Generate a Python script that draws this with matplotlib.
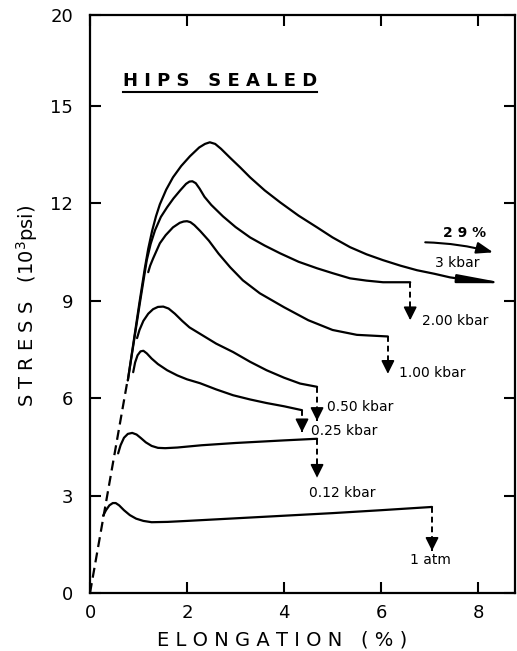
import matplotlib
matplotlib.use('Agg')
import matplotlib.pyplot as plt

# elastic (dashed) part, common to all pressures
elastic_x = [0.0, 0.78]
elastic_y = [0.0, 6.6]

# stress-strain curves (elongation %, stress 10^3 psi)
x_1atm = [0.27, 0.33, 0.40, 0.47, 0.53, 0.60, 0.70, 0.82, 0.95, 1.10, 1.27, 1.6, 2.0, 3.0, 4.0, 5.0, 6.0, 7.05]
y_1atm = [2.38, 2.55, 2.70, 2.77, 2.77, 2.70, 2.55, 2.40, 2.29, 2.22, 2.18, 2.19, 2.22, 2.30, 2.38, 2.46, 2.55, 2.65]

x_012 = [0.58, 0.63, 0.70, 0.78, 0.87, 0.96, 1.05, 1.15, 1.27, 1.40, 1.55, 1.8, 2.3, 3.0, 3.5, 4.0, 4.68]
y_012 = [4.30, 4.55, 4.78, 4.90, 4.93, 4.88, 4.77, 4.64, 4.53, 4.47, 4.46, 4.48, 4.55, 4.62, 4.66, 4.70, 4.75]

x_025 = [0.89, 0.93, 0.98, 1.04, 1.10, 1.17, 1.27, 1.40, 1.59, 1.80, 2.0, 2.27, 2.6, 2.95, 3.3, 3.64, 4.0, 4.37]
y_025 = [6.80, 7.10, 7.32, 7.44, 7.46, 7.38, 7.22, 7.05, 6.86, 6.70, 6.58, 6.46, 6.27, 6.09, 5.96, 5.85, 5.75, 5.63]

x_050 = [0.97, 1.02, 1.10, 1.20, 1.30, 1.40, 1.51, 1.62, 1.75, 1.90, 2.05, 2.27, 2.60, 2.95, 3.3, 3.64, 4.0, 4.33, 4.68]
y_050 = [7.85, 8.10, 8.38, 8.60, 8.74, 8.81, 8.82, 8.76, 8.60, 8.38, 8.18, 7.98, 7.68, 7.42, 7.12, 6.86, 6.63, 6.45, 6.35]

x_100 = [1.20, 1.24, 1.30, 1.44, 1.56, 1.71, 1.85, 1.93, 2.00, 2.07, 2.15, 2.27, 2.45, 2.65, 2.89, 3.15, 3.5, 4.0, 4.5, 5.0, 5.5, 6.14]
y_100 = [9.88, 10.08, 10.30, 10.77, 11.02, 11.26, 11.40, 11.44, 11.45, 11.42, 11.33, 11.15, 10.85, 10.45, 10.03, 9.63, 9.23, 8.80, 8.40, 8.10, 7.95, 7.90]

x_200 = [0.78, 0.90, 1.03, 1.17, 1.25, 1.34, 1.46, 1.59, 1.72, 1.86, 1.98, 2.05, 2.11, 2.18, 2.26, 2.36, 2.50, 2.74, 3.0, 3.3, 3.6, 3.92, 4.3, 4.68, 5.0, 5.36, 5.7, 6.04, 6.3, 6.6]
y_200 = [6.55, 7.70, 8.95, 10.25, 10.75, 11.17, 11.58, 11.88, 12.15, 12.40, 12.60, 12.67, 12.68, 12.62, 12.45, 12.20, 11.95, 11.60, 11.27, 10.95, 10.70, 10.46, 10.20, 10.00, 9.85, 9.69, 9.62, 9.57, 9.57, 9.57]

x_300 = [0.78, 0.90, 1.02, 1.13, 1.20, 1.28, 1.36, 1.44, 1.57, 1.71, 1.88, 2.06, 2.25, 2.37, 2.47, 2.58, 2.70, 2.89, 3.1, 3.3, 3.6, 3.92, 4.3, 4.68, 5.0, 5.36, 5.7, 6.04, 6.4, 6.74, 7.1, 7.42, 7.7]
y_300 = [6.55, 7.75, 8.95, 10.0, 10.6, 11.15, 11.6, 11.97, 12.42, 12.8, 13.15, 13.45, 13.72, 13.83, 13.88, 13.83, 13.68, 13.40, 13.10, 12.80, 12.40, 12.03, 11.62, 11.26, 10.95, 10.65, 10.43, 10.25, 10.08, 9.94, 9.83, 9.72, 9.66]

# fracture drops: (x, from y, to y) and labels
break_x = [7.05, 4.68, 4.37, 4.68, 6.14, 6.6]
break_top = [2.65, 4.75, 5.63, 6.35, 7.90, 9.57]
break_tip = [1.30, 3.55, 4.95, 5.30, 6.75, 8.40]

labels = ['1 atm', '0.12 kbar', '0.25 kbar', '0.50 kbar', '1.00 kbar', '2.00 kbar']
label_x = [7.01, 5.20, 4.56, 4.89, 6.37, 6.85]
label_y = [1.02, 3.08, 4.98, 5.72, 6.77, 8.37]
label_ha = ['center', 'center', 'left', 'left', 'left', 'left']

xticks = [0, 2, 4, 6, 8]
ytop = 17.8
yticks = [0, 3, 6, 9, 12, 15, ytop]
yticklabels = ['0', '3', '6', '9', '12', '15', '20']

plt.rcParams['font.family'] = ['DejaVu Sans']

fig = plt.figure(figsize=(5.17, 6.51), dpi=100)
ax = fig.add_axes([90 / 517, 58 / 651, 425 / 517, 578 / 651])

lw = 1.6
ax.plot(elastic_x, elastic_y, color='k', lw=lw, linestyle=(0, (4.5, 2.5)))
for xs, ys in [(x_1atm, y_1atm), (x_012, y_012), (x_025, y_025), (x_050, y_050),
               (x_100, y_100), (x_200, y_200), (x_300, y_300)]:
    ax.plot(xs, ys, color='k', lw=lw, solid_capstyle='round', solid_joinstyle='round')

for bx, top, tip in zip(break_x, break_top, break_tip):
    ax.plot([bx, bx], [top, tip], color='k', lw=1.4, linestyle=(0, (3, 2)))
    ax.annotate('', xy=(bx, tip), xytext=(0, 9), textcoords='offset points',
                arrowprops=dict(arrowstyle='-|>,head_length=0.8,head_width=0.4',
                                color='k', lw=1.2, shrinkA=0, shrinkB=0))

for txt, lx, ly, ha in zip(labels, label_x, label_y, label_ha):
    ax.text(lx, ly, txt, fontsize=10, ha=ha, va='center')

# 3 kbar curve runs off to 29 %
ax.annotate('', xy=(8.56, 9.54), xytext=(x_300[-1], y_300[-1]),
            arrowprops=dict(arrowstyle='-|>,head_length=2.7,head_width=0.25',
                            color='k', lw=lw, shrinkA=0, shrinkB=0))
ax.annotate('', xy=(8.31, 10.49), xytext=(6.91, 10.8),
            arrowprops=dict(arrowstyle='-|>,head_length=1.0,head_width=0.35',
                            color='k', lw=1.5, shrinkA=0, shrinkB=0,
                            connectionstyle='arc3,rad=-0.06'))
ax.text(7.73, 11.08, '2 9 %', fontsize=10, ha='center', va='center', fontweight='bold')
ax.text(7.57, 10.15, '3 kbar', fontsize=10, ha='center', va='center')

# title with underline
ax.text(2.68, 15.78, 'H I P S   S E A L E D', fontsize=13, fontweight='bold',
        ha='center', va='center')
ax.plot([0.68, 4.68], [15.42, 15.42], color='k', lw=1.5)

ax.set_xlim(0, 8.76)
ax.set_ylim(0, ytop)
ax.set_xticks(xticks)
ax.set_yticks(yticks)
ax.set_yticklabels(yticklabels)
ax.tick_params(direction='in', length=8, width=1.5, top=True, right=True,
               labelsize=13)
ax.tick_params(axis='y', pad=12)
ax.tick_params(axis='x', pad=8)
for s in ax.spines.values():
    s.set_linewidth(1.6)

fig.text(27 / 517, (651 - 306) / 651, 'S T R E S S   (10$^3$psi)', rotation=90,
         fontsize=14, ha='center', va='center')
fig.text(282 / 517, (651 - 640) / 651, 'E L O N G A T I O N   ( % )',
         fontsize=14, ha='center', va='center')

fig.savefig('out.png', dpi=100)
